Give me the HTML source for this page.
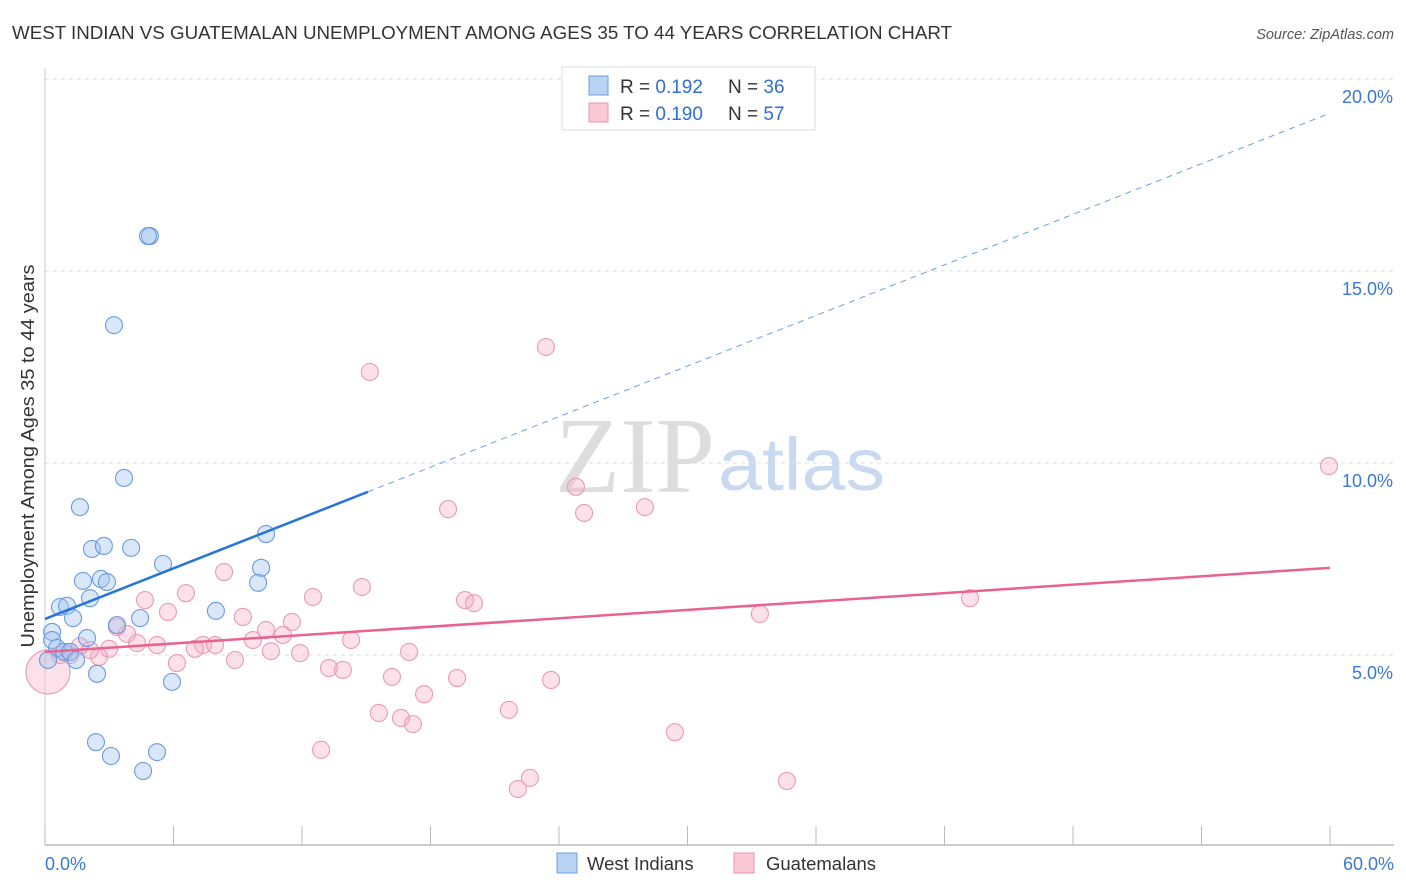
<!DOCTYPE html>
<html><head><meta charset="utf-8"><style>
body{margin:0;background:#fff;font-family:"Liberation Sans",sans-serif}
svg{display:block}
</style></head><body>
<svg id="c" width="1406" height="892" xmlns="http://www.w3.org/2000/svg">
<text x="12" y="39" font-size="18" fill="#333" textLength="940" lengthAdjust="spacingAndGlyphs">WEST INDIAN VS GUATEMALAN UNEMPLOYMENT AMONG AGES 35 TO 44 YEARS CORRELATION CHART</text>
<text x="1394" y="39" font-size="14.5" fill="#555" font-style="italic" text-anchor="end">Source: ZipAtlas.com</text>
<text x="555" y="492" font-size="108" fill="#ddd" font-family="Liberation Serif,serif" textLength="160" lengthAdjust="spacingAndGlyphs">ZIP</text>
<text x="718" y="490" font-size="74" fill="#c9daf0" textLength="167" lengthAdjust="spacingAndGlyphs">atlas</text>
<text transform="translate(34,456) rotate(-90)" font-size="18" fill="#333" text-anchor="middle" textLength="383" lengthAdjust="spacingAndGlyphs">Unemployment Among Ages 35 to 44 years</text>
<g id="grid"></g><g id="pts"></g><g id="lines"></g>
<g>
<rect x="562" y="67" width="253" height="63" fill="#fff" stroke="#ddd"/>
<rect x="589" y="76" width="19" height="19" fill="#b9d3f5" stroke="#6a9fe0"/>
<rect x="589" y="103" width="19" height="19" fill="#f9c7d6" stroke="#e895b0"/>
<text x="620" y="93" font-size="19" fill="#333">R = <tspan fill="#2f6fd6">0.192</tspan></text>
<text x="728" y="93" font-size="19" fill="#333">N = <tspan fill="#2f6fd6">36</tspan></text>
<text x="620" y="120" font-size="19" fill="#333">R = <tspan fill="#2f6fd6">0.190</tspan></text>
<text x="728" y="120" font-size="19" fill="#333">N = <tspan fill="#2f6fd6">57</tspan></text>
</g>
<g>
<rect x="557" y="853" width="20" height="20" fill="#b9d3f5" stroke="#6a9fe0"/>
<text x="587" y="870" font-size="18.5" fill="#333">West Indians</text>
<rect x="734" y="853" width="20" height="20" fill="#f9c7d6" stroke="#e895b0"/>
<text x="766" y="870" font-size="18.5" fill="#333">Guatemalans</text>
</g>
</svg>
<script>
const xTicks=[0,6,12,18,24,30,36,42,48,54,60];
const yTicks=[5,10,15,20];
const blueX=[4.90,4.81,3.22,3.69,1.63,2.19,2.75,4.02,5.51,10.32,10.09,9.95,1.77,2.61,2.89,2.10,0.70,1.03,1.31,7.98,4.44,3.36,1.96,0.33,0.33,0.56,0.89,1.17,1.45,2.43,5.93,2.38,3.08,5.23,4.58,0.14];
const blueY=[15.91,15.91,13.59,9.61,8.85,7.76,7.84,7.79,7.37,8.15,7.27,6.88,6.93,6.98,6.90,6.48,6.25,6.28,5.96,6.15,5.96,5.78,5.44,5.60,5.39,5.18,5.08,5.08,4.87,4.51,4.30,2.73,2.37,2.47,1.98,4.87];
const pinkX=[23.39,15.17,59.95,24.79,18.82,25.17,28.01,8.36,6.58,14.80,12.51,19.61,20.03,33.38,43.19,4.67,5.74,9.24,11.53,10.32,11.11,3.36,3.83,4.30,5.23,7.38,7.94,9.71,14.29,7.00,2.99,1.63,1.17,2.52,10.55,11.91,17.00,6.16,8.87,13.26,13.91,16.20,17.70,19.24,23.63,15.59,16.62,17.18,21.66,29.41,12.89,22.64,22.08,34.64,0.14,0.70,2.10];
const pinkY=[13.02,12.37,9.92,9.38,8.80,8.70,8.85,7.16,6.61,6.77,6.51,6.43,6.35,6.07,6.48,6.43,6.12,5.99,5.86,5.65,5.52,5.73,5.55,5.31,5.26,5.26,5.26,5.39,5.39,5.16,5.16,5.23,5.00,4.95,5.10,5.05,5.08,4.79,4.87,4.66,4.61,4.43,3.98,4.40,4.35,3.49,3.36,3.20,3.57,2.99,2.53,1.80,1.51,1.72,4.56,5.00,5.13];
const pinkR=pinkX.map((v,i)=>i===54?22:8.5);
const blueTrend=[5.94,19.11]; const blueSolidEnd=15.08;
const pinkTrend=[5.08,7.27];
const NS="http://www.w3.org/2000/svg";
const sx=v=>45+v/60*1285, sy=v=>847-v*38.4;
function mk(t,a,p){const e=document.createElementNS(NS,t);for(const k in a)e.setAttribute(k,a[k]);p.appendChild(e);return e;}
const grid=document.getElementById('grid');
yTicks.forEach(t=>{
 const l=mk('line',{x1:45,x2:1394,y1:sy(t),y2:sy(t),stroke:'#ddd','stroke-dasharray':'4,4'},grid);
 
 
 const tx=mk('text',{x:1393,y:sy(t)+24,'font-size':18,fill:'#3a78d6','text-anchor':'end'},grid);tx.textContent=t.toFixed(1)+'%';
 
 
});
mk('line',{x1:45,x2:1394,y1:845,y2:845,stroke:'#bbb','stroke-width':1.5},grid);
mk('line',{x1:45,x2:45,y1:68,y2:845,stroke:'#ccc'},grid);
xTicks.forEach(t=>{const l=mk('line',{x1:sx(t),x2:sx(t),y1:826,y2:845,stroke:'#bbb'},grid);
 
 });
[[0,'0.0%','start',45],[60,'60.0%','end',1394]].forEach(([v,s,a,x])=>{const tx=mk('text',{x:x,y:870,'font-size':18,fill:'#3a78d6','text-anchor':a},grid);tx.textContent=s;
 
 });
const pts=document.getElementById('pts');
pinkX.forEach((v,i)=>{const c=mk('circle',{cx:sx(v),cy:sy(pinkY[i]),r:pinkR[i],fill:'rgba(246,170,195,0.35)',stroke:'#e99ab5','stroke-width':1.1},pts);
 
 });
blueX.forEach((v,i)=>{const c=mk('circle',{cx:sx(v),cy:sy(blueY[i]),r:8.5,fill:'rgba(160,195,240,0.4)',stroke:'#6a9be0','stroke-width':1.1},pts);
 
 });
const ln=document.getElementById('lines');
const by=x=>blueTrend[0]+(blueTrend[1]-blueTrend[0])*x/60;
let a=mk('line',{x1:sx(0),y1:sy(by(0)),x2:sx(blueSolidEnd),y2:sy(by(blueSolidEnd)),stroke:'#2a74d8','stroke-width':2.5},ln);


let b=mk('line',{x1:sx(blueSolidEnd),y1:sy(by(blueSolidEnd)),x2:sx(60),y2:sy(by(60)),stroke:'#6a9fe0','stroke-width':1,'stroke-dasharray':'6,5'},ln);


let p=mk('line',{x1:sx(0),y1:sy(pinkTrend[0]),x2:sx(60),y2:sy(pinkTrend[1]),stroke:'#e8638f','stroke-width':2.5},ln);


</script>
</body></html>
